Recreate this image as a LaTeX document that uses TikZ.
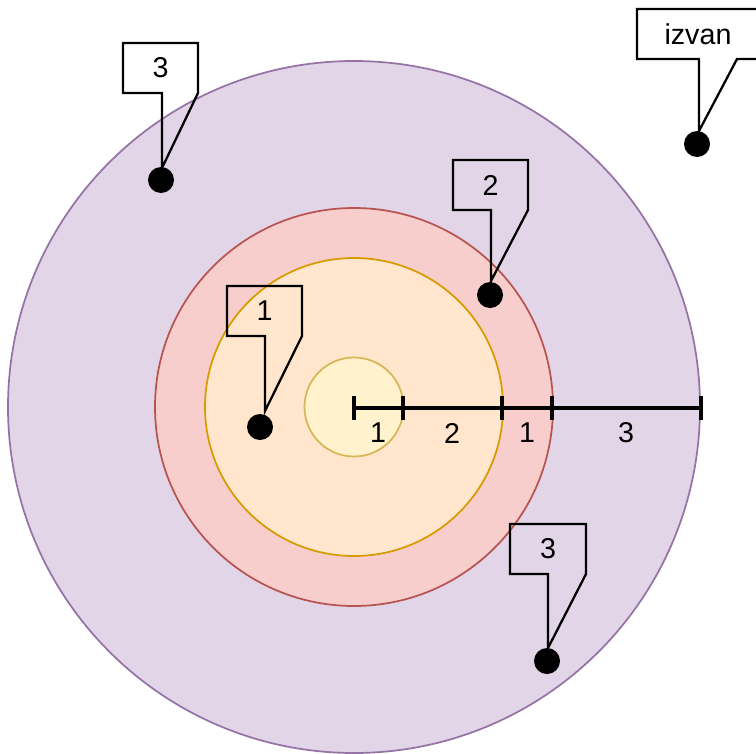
\documentclass[tikz,border=0pt]{standalone}
\usepackage{fontspec}
\setmainfont{Liberation Sans}
\definecolor{purpfill}{HTML}{E1D5E7}
\definecolor{purpline}{HTML}{9673A6}
\definecolor{redfill}{HTML}{F8CECC}
\definecolor{redline}{HTML}{B85450}
\definecolor{orangefill}{HTML}{FFE6CC}
\definecolor{orangeline}{HTML}{D79B00}
\definecolor{yellowfill}{HTML}{FFF2CC}
\definecolor{yellowline}{HTML}{D6B656}

% callout box with a tail: #1 name, #2 left, #3 top, #4 right, #5 tail base x,
% #6 notch x, #7 tip y, #8 text
\newcommand\calloutbox[8]{%
  \coordinate (#1-tip) at (#6,#7);
  \draw[calloutshape] (#2,#3) -- (#4,#3) -- (#4,#3+50) -- (#5,#3+50)
     -- (#1-tip) -- (#6,#3+50) -- (#2,#3+50) -- cycle;
  \node[lbl] (#1) at ({(#2+#4)/2},#3+25) {#8};
}

\begin{document}
\begin{tikzpicture}[x=0.75pt,y=-0.75pt,
  zone/.style={circle, line width=1.3pt, inner sep=0pt, outer sep=0pt},
  calloutshape/.style={draw=black, line width=1.7pt, line join=miter},
  dot/.style={circle, fill=black, inner sep=0pt, minimum size=19.5pt},
  lbl/.style={font=\fontsize{21.5}{25}\selectfont, inner sep=0pt},
  ruler/.style={line width=3pt, line cap=butt},
]
\useasboundingbox (0,0) rectangle (756,753);
\clip (0,0) rectangle (756,753);

% concentric zones
\node[zone, fill=purpfill, draw=purpline, minimum size=519pt] (zone3) at (354,407) {};
\node[zone, fill=redfill, draw=redline, minimum size=298.5pt] (zone2) at (354,407) {};
\node[zone, fill=orangefill, draw=orangeline, minimum size=223.5pt] (zone1) at (354,407) {};
\node[zone, fill=yellowfill, draw=yellowline, minimum size=74.25pt] (core) at (354,407) {};

% radius scale
\coordinate (r0) at (354,408);
\coordinate (r1) at (403,408);
\coordinate (r2) at (502,408);
\coordinate (r3) at (552,408);
\coordinate (r4) at (701,408);
\draw[ruler] (r0) -- (r4);
\foreach \t in {r0,r1,r2,r3,r4}
  \draw[ruler] ([yshift=9pt]\t) -- ([yshift=-9pt]\t);
\node[lbl] (s1) at (378,433) {1};
\node[lbl] (s2) at (452,433) {2};
\node[lbl] (s3) at (527,433) {1};
\node[lbl] (s4) at (626,433) {3};

% callouts
\calloutbox{ca}{123}{43}{198}{198}{162}{168}{3}
\calloutbox{cb}{637}{9}{759}{737}{699}{131}{izvan}
\calloutbox{cc}{453}{160}{528}{528}{491}{281}{2}
\calloutbox{cd}{227}{286}{302}{302}{265}{411}{1}
\calloutbox{ce}{510}{524}{586}{586}{548}{648}{3}

% marked points
\node[dot] (pa) at (161,180) {};
\node[dot] (pb) at (697,144) {};
\node[dot] (pc) at (490,295) {};
\node[dot] (pd) at (260,427) {};
\node[dot] (pe) at (547,661) {};
\end{tikzpicture}
\end{document}
